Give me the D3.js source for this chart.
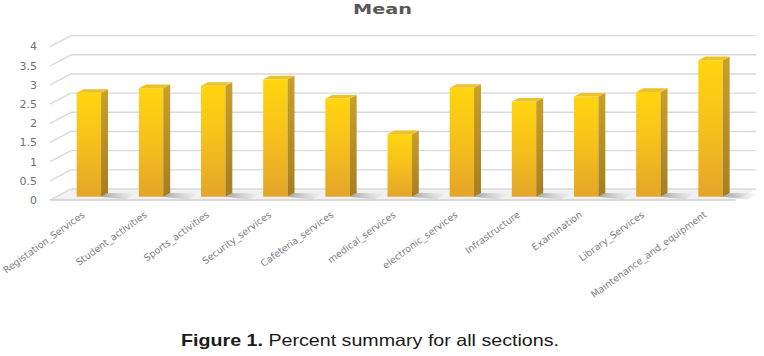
<!DOCTYPE html>
<html>
<head>
<meta charset="utf-8">
<script src="https://cdn.jsdelivr.net/npm/d3@7"></script>
<style>
  html, body { margin: 0; padding: 0; background: #ffffff; }
  svg { display: block; }
</style>
</head>
<body>
<svg id="chart" width="764" height="356"></svg>
<script>
// ---- data ----
const categories = [
  "Registation_Services", "Student_activities", "Sports_activities", "Security_services",
  "Cafeteria_services", "medical_services", "electronic_services", "Infrastructure",
  "Examination", "Library_Services", "Maintenance_and_equipment"
];
const meanValues = [2.71, 2.83, 2.89, 3.06, 2.56, 1.63, 2.84, 2.48, 2.61, 2.73, 3.56];
const yTicks = [0, 0.5, 1, 1.5, 2, 2.5, 3, 3.5, 4];
const chartTitle = "Mean";
const captionBold = "Figure 1.";
const captionText = " Percent summary for all sections.";

// ---- layout ----
const svg = d3.select("#chart");
const DX = 21, DY = 11;            // depth offset of back wall
const x = d3.scaleBand().domain(categories).range([51.5, 735.3]).padding(0);
const y = d3.scaleLinear().domain([0, 4]).range([200, 46.6]);
const barW = 24.4;
const zF = 0.30, zB = 0.63;        // bar depth span
const P = (px, v, z) => [px + z * DX, y(v) - z * DY];

const defs = svg.append("defs");
const gFront = defs.append("linearGradient").attr("id", "gFront").attr("x1", 0).attr("y1", 0).attr("x2", 0).attr("y2", 1);
gFront.append("stop").attr("offset", "0%").attr("stop-color", "#FFD50F");
gFront.append("stop").attr("offset", "45%").attr("stop-color", "#F7C21A");
gFront.append("stop").attr("offset", "100%").attr("stop-color", "#E3A52A");
const gSide = defs.append("linearGradient").attr("id", "gSide").attr("x1", 0).attr("y1", 0).attr("x2", 0).attr("y2", 1);
gSide.append("stop").attr("offset", "0%").attr("stop-color", "#C9A02A");
gSide.append("stop").attr("offset", "100%").attr("stop-color", "#A57E22");
const gShadow = defs.append("linearGradient").attr("id", "gShadow").attr("x1", 0).attr("y1", 0).attr("x2", 1).attr("y2", 0);
gShadow.append("stop").attr("offset", "0%").attr("stop-color", "#8f8f8f").attr("stop-opacity", 0.8);
gShadow.append("stop").attr("offset", "100%").attr("stop-color", "#bdbdbd").attr("stop-opacity", 0);

const x0 = x.range()[0] - 1.5, x1 = x.range()[1];
const poly = pts => pts.map(p => p.join(",")).join(" ");

// floor
svg.append("polygon")
  .attr("points", poly([P(x0, 0, 0), P(x1, 0, 0), P(x1, 0, 1), P(x0, 0, 1)]))
  .attr("fill", "#f1f1f1");

// gridlines on back wall + diagonal slashes on left wall
yTicks.forEach(t => {
  svg.append("line")
    .attr("x1", P(x0, t, 1)[0]).attr("y1", P(x0, t, 1)[1])
    .attr("x2", P(x1, t, 1)[0]).attr("y2", P(x1, t, 1)[1])
    .attr("stroke", "#d9d9d9").attr("stroke-width", 1.4);
  svg.append("line")
    .attr("x1", P(x0, t, 0)[0]).attr("y1", P(x0, t, 0)[1])
    .attr("x2", P(x0, t, 1)[0]).attr("y2", P(x0, t, 1)[1])
    .attr("stroke", "#d9d9d9").attr("stroke-width", 1.4);
});

// floor front edge
svg.append("line")
  .attr("x1", P(x0, 0, 0)[0]).attr("y1", P(x0, 0, 0)[1])
  .attr("x2", P(x1, 0, 0)[0]).attr("y2", P(x1, 0, 0)[1])
  .attr("stroke", "#cfcfcf").attr("stroke-width", 1.6);

// y tick labels
svg.append("g").selectAll("text").data(yTicks).join("text")
  .attr("x", 37).attr("y", d => y(d)).attr("dy", "0.35em")
  .attr("text-anchor", "end")
  .attr("font-family", "DejaVu Sans").attr("font-size", 11)
  .attr("fill", "#707070")
  .text(d => d);

// bars
const bars = svg.append("g");
categories.forEach((c, i) => {
  const v = meanValues[i];
  const cx = x(c) + x.bandwidth() / 2;
  const L = cx - barW / 2, R = cx + barW / 2;
  // shadow on floor
  bars.append("polygon")
    .attr("points", poly([P(R, 0, zF), P(R + 30, 0, zF - 0.25), P(R + 30, 0, zB - 0.05), P(R, 0, zB)]))
    .attr("fill", "url(#gShadow)");
  // front face
  const fTL = P(L, v, zF), fBR = P(R, 0, zF);
  bars.append("rect")
    .attr("x", fTL[0]).attr("y", fTL[1])
    .attr("width", fBR[0] - fTL[0]).attr("height", fBR[1] - fTL[1])
    .attr("fill", "url(#gFront)");
  // side face
  bars.append("polygon")
    .attr("points", poly([P(R, v, zF), P(R, 0, zF), P(R, 0, zB), P(R, v, zB)]))
    .attr("fill", "url(#gSide)");
  // top face
  bars.append("polygon")
    .attr("points", poly([P(L, v, zF), P(R, v, zF), P(R, v, zB), P(L, v, zB)]))
    .attr("fill", "#EDC229");
});

// x labels
svg.append("g").selectAll("text").data(categories).join("text")
  .attr("transform", d => `translate(${x(d) + x.bandwidth() / 2 + 3},${216}) rotate(-36)`)
  .attr("text-anchor", "end")
  .attr("font-family", "DejaVu Sans").attr("font-size", 9.5)
  .attr("fill", "#808080")
  .text(d => d);

// title
svg.append("text")
  .attr("x", 382.5).attr("y", 13.5)
  .attr("text-anchor", "middle")
  .attr("font-family", "DejaVu Sans").attr("font-weight", "bold").attr("font-size", 14)
  .attr("textLength", 59).attr("lengthAdjust", "spacingAndGlyphs")
  .attr("fill", "#595959")
  .text(chartTitle);

// caption
const cap = svg.append("text")
  .attr("x", 181).attr("y", 346)
  .attr("font-family", "Liberation Sans").attr("font-size", 16.5)
  .attr("fill", "#1a1a1a")
  .attr("textLength", 378).attr("lengthAdjust", "spacingAndGlyphs");
cap.append("tspan").attr("font-weight", "bold").text(captionBold);
cap.append("tspan").text(captionText);
</script>
</body>
</html>
